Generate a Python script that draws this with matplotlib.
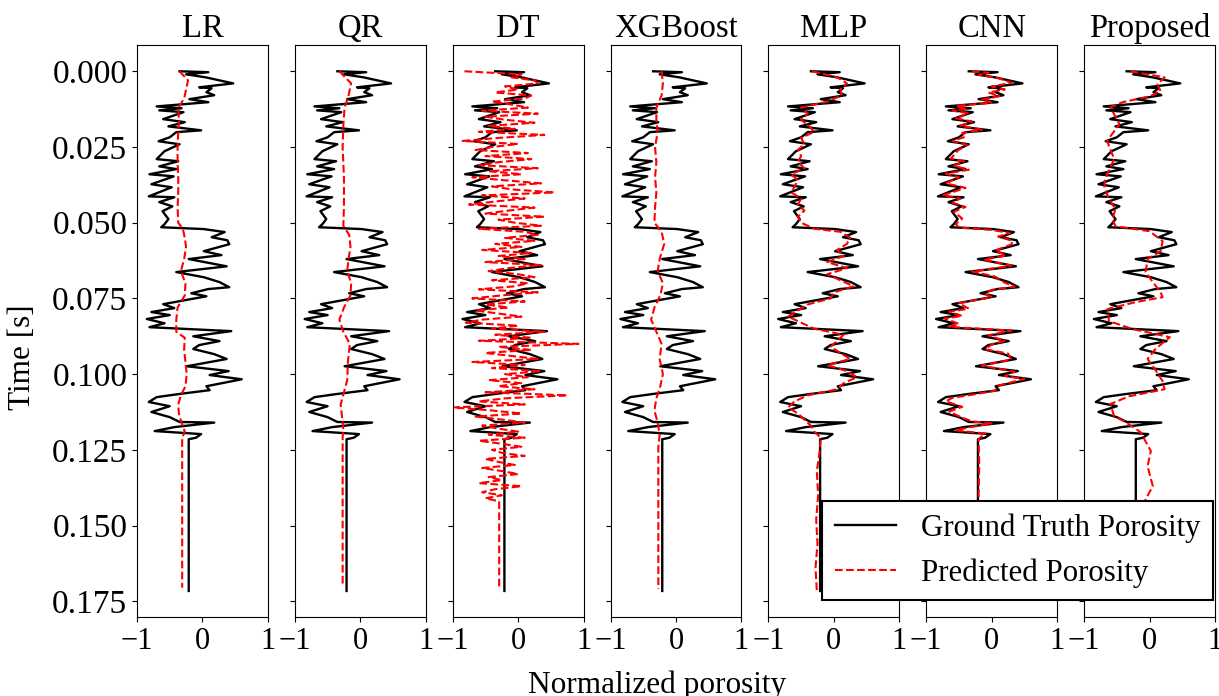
import matplotlib
matplotlib.use("Agg")
import matplotlib.pyplot as plt
import numpy as np

plt.rcParams["font.family"] = ["Liberation Serif", "DejaVu Serif"]
plt.rcParams["font.size"] = 21
plt.rcParams["axes.unicode_minus"] = True

# ground truth porosity log (time in ms, normalized porosity)
gt_time = [0, 0.3, 1.0, 2.0, 4.0, 5.3, 5.6, 6.9, 7.9, 9.2, 10.2, 11.6, 12.2, 12.9, 13.5,
           15.8, 16.8, 18.2, 19.5, 20.1, 21.8, 23.1, 24.1, 26.4, 29.0, 29.7, 31.4, 32.3,
           34.0, 34.7, 37.3, 38.3, 41.3, 41.6, 43.2, 44.6, 46.2, 48.8, 50.5, 51.5, 52.1,
           53.1, 54.8, 55.8, 57.1, 59.4, 60.7, 62.0, 64.4, 66.3, 68.0, 69.6, 71.3, 71.9,
           73.3, 74.3, 76.9, 78.2, 79.5, 80.5, 81.8, 83.2, 84.5, 85.8, 87.5, 89.1, 90.4,
           91.7, 93.4, 95.0, 97.4, 99.0, 100.3, 101.7, 104.0, 105.3, 106.6, 107.6, 109.2,
           110.6, 112.5, 114.2, 115.8, 116.0, 117.5, 118.8, 119.8, 121.0, 121.5, 171.6]
gt_value = [-0.35, 0.09, -0.25, 0.05, 0.47, -0.05, 0.14, 0.06, 0.18, -0.20, 0.09, -0.70,
            -0.32, -0.66, -0.29, -0.60, -0.27, -0.52, -0.02, -0.40, -0.50, -0.67, -0.35,
            -0.58, -0.70, -0.37, -0.66, -0.40, -0.81, -0.44, -0.78, -0.47, -0.82, -0.43,
            -0.66, -0.46, -0.61, -0.52, -0.58, -0.63, 0.02, 0.34, 0.14, 0.38, 0.41, 0.02,
            0.29, -0.21, 0.37, -0.40, 0.02, 0.26, 0.41, 0.09, -0.17, 0.06, -0.60, -0.43,
            -0.78, -0.50, -0.85, -0.58, -0.81, 0.44, -0.14, 0.26, -0.05, -0.14, 0.18, 0.37,
            -0.24, 0.40, 0.11, 0.60, 0.06, 0.11, -0.37, -0.70, -0.82, -0.50, -0.78, -0.50,
            -0.35, 0.18, -0.43, -0.73, -0.02, -0.10, -0.21, -0.21]

# model predictions
lr_time = [0, 3, 6, 9, 12, 16, 20, 25, 30, 35, 40, 45, 50, 52, 55, 58, 62, 66, 70, 74, 78,
           82, 86, 88, 92, 96, 100, 104, 107, 110, 113, 116, 119, 121, 170.5]
lr_value = [-0.35, -0.22, -0.25, -0.28, -0.37, -0.36, -0.37, -0.38, -0.38, -0.37, -0.37,
            -0.38, -0.37, -0.30, -0.27, -0.25, -0.28, -0.33, -0.26, -0.27, -0.38, -0.40,
            -0.40, -0.27, -0.28, -0.26, -0.24, -0.26, -0.33, -0.37, -0.36, -0.32, -0.27,
            -0.31, -0.31]

qr_time = [0, 4, 8, 12, 18, 25, 35, 45, 51, 54, 58, 62, 66, 70, 74, 78, 82, 86, 90, 96,
           102, 106, 110, 114, 118, 121, 169.5]
qr_value = [-0.32, -0.14, -0.18, -0.24, -0.26, -0.27, -0.25, -0.25, -0.26, -0.17, -0.15,
            -0.18, -0.20, -0.14, -0.15, -0.25, -0.32, -0.26, -0.16, -0.19, -0.20, -0.25,
            -0.30, -0.28, -0.26, -0.27, -0.27]

dt_value = [-0.82, 0.05, -0.1, 0.25, 0.3, -0.2, 0.0, -0.35, 0.2, 0.1,
            -0.4, -0.1, 0.15, -0.55, 0.3, -0.5, -0.2, 0.25, -0.45, -0.05,
            -0.6, 0.4, -0.3, -0.85, 0.0, -0.4, -0.65, 0.15, -0.5, 0.2,
            -0.3, -0.6, 0.3, -0.45, 0.05, -0.7, -0.2, 0.35, -0.4, -0.1,
            0.55, -0.55, 0.1, -0.35, -0.75, 0.25, -0.15, -0.5, 0.4, -0.3,
            -0.05, 0.35, -0.6, 0.1, 0.3, -0.2, 0.25, -0.35, 0.05, -0.55,
            0.2, -0.3, 0.1, -0.5, 0.35, -0.15, -0.45, 0.0, 0.25, -0.4,
            0.15, -0.05, -0.6, 0.3, -0.25, -0.7, 0.1, -0.5, -0.15, -0.65,
            -0.3, 0.05, -0.55, -0.8, 0.0, -0.4, 0.4, -0.35, 0.2, -0.6,
            0.92, -0.3, 0.2, -0.5, -0.1, 0.3, -0.7, 0.1, -0.4, 0.35,
            -0.2, 0.15, -0.45, 0.05, -0.3, 0.25, -0.5, 0.75, -0.2, -0.6,
            0.1, -1.0, -0.4, 0.05, -0.65, -0.25, 0.1, -0.55, -0.3, 0.0,
            -0.45, 0.1, -0.6, -0.25, 0.05, -0.4, -0.25, 0.1, -0.5, -0.3,
            -0.05, -0.55, -0.25, 0.0, -0.45, -0.25, -0.6, 0.05, -0.35, -0.55,
            -0.25, -0.5, -0.29, -0.29]
dt_time = list(range(142)) + [142, 171]

xgb_time = [0, 4, 8, 12, 16, 20, 25, 30, 35, 40, 45, 50, 53, 57, 62, 66, 70, 74, 78, 82,
            86, 90, 95, 100, 104, 108, 112, 116, 120, 124, 171]
xgb_value = [-0.22, -0.20, -0.22, -0.30, -0.30, -0.28, -0.32, -0.30, -0.32, -0.30, -0.32,
             -0.33, -0.22, -0.18, -0.25, -0.28, -0.20, -0.24, -0.33, -0.38, -0.30, -0.22,
             -0.25, -0.20, -0.24, -0.30, -0.33, -0.28, -0.25, -0.27, -0.27]

mlp_time = [0, 2, 4, 6, 8, 10, 12, 14, 16, 18, 20, 22, 24, 26, 28, 30, 32, 34, 36, 38, 40,
            42, 44, 46, 48, 50, 52, 53, 55, 57, 59, 61, 63, 65, 67, 69, 71, 73, 75, 77, 79,
            81, 83, 85, 87, 89, 91, 93, 95, 97, 99, 101, 103, 105, 107, 109, 111, 113, 115,
            117, 119, 121, 126, 132, 140, 148, 156, 164, 171.6]
mlp_value = [-0.33, 0.05, 0.20, 0.10, 0.12, -0.10, -0.50, -0.40, -0.50, -0.38, -0.30, -0.50,
             -0.45, -0.55, -0.50, -0.55, -0.45, -0.65, -0.55, -0.60, -0.65, -0.50, -0.55,
             -0.45, -0.55, -0.50, -0.30, 0.10, 0.25, 0.20, 0.05, 0.15, -0.10, 0.20, -0.10,
             0.10, 0.30, 0.00, -0.05, -0.40, -0.55, -0.70, -0.50, -0.30, 0.15, 0.05, -0.05,
             0.10, 0.25, -0.10, 0.20, 0.35, 0.15, 0.05, -0.40, -0.60, -0.70, -0.55, -0.45,
             -0.35, -0.30, -0.20, -0.22, -0.26, -0.24, -0.27, -0.25, -0.28, -0.26]

cnn_time = [0, 0.5, 1.2, 2.2, 3.8, 5.0, 6.0, 7.0, 8.2, 9.4, 10.4, 11.4, 12.4, 13.0, 13.8,
            15.5, 16.6, 18.0, 19.3, 20.3, 21.6, 23.0, 24.3, 26.2, 28.8, 29.8, 31.2, 32.5,
            33.8, 35.0, 37.0, 38.5, 41.0, 42.0, 43.4, 44.8, 46.4, 48.6, 50.4, 51.6, 52.4,
            53.4, 54.6, 56.0, 57.2, 59.2, 60.8, 62.2, 64.2, 66.1, 67.8, 69.8, 71.1, 72.2,
            73.4, 74.6, 76.6, 78.4, 79.4, 80.8, 81.6, 83.4, 84.4, 85.6, 87.2, 89.0, 90.2,
            91.8, 93.2, 95.2, 97.2, 99.2, 100.6, 101.6, 103.8, 105.5, 106.8, 107.8, 109.0,
            110.8, 112.4, 114.4, 115.6, 116.3, 117.6, 118.6, 119.6, 121.4, 130, 140, 150,
            160, 171.6]
cnn_value = [-0.30, -0.05, -0.20, 0.10, 0.30, 0.00, 0.20, -0.05, 0.12, -0.15, 0.00, -0.55,
             -0.38, -0.60, -0.35, -0.55, -0.30, -0.48, -0.15, -0.45, -0.40, -0.60, -0.38,
             -0.52, -0.62, -0.42, -0.58, -0.35, -0.70, -0.50, -0.70, -0.40, -0.75, -0.48,
             -0.60, -0.40, -0.58, -0.45, -0.55, -0.50, 0.00, 0.28, 0.10, 0.32, 0.30, 0.05,
             0.22, -0.12, 0.30, -0.30, 0.05, 0.20, 0.35, 0.00, -0.10, 0.00, -0.50, -0.35,
             -0.65, -0.45, -0.72, -0.50, -0.65, 0.30, -0.05, 0.20, 0.00, -0.10, 0.25, 0.30,
             -0.15, 0.35, 0.20, 0.50, 0.10, 0.05, -0.30, -0.60, -0.70, -0.45, -0.65, -0.45,
             -0.30, 0.00, -0.35, -0.55, -0.10, -0.20, -0.19, -0.20, -0.19, -0.20, -0.20]

prop_time = [0, 2, 4.3, 6.6, 8.3, 10.2, 11.9, 14.2, 17.5, 19.8, 23, 25.7, 29, 31.7, 35.6,
             38.3, 42.2, 45.5, 48.8, 51.2, 52.8, 56.1, 59.4, 62, 66.3, 69.6, 73, 74.6, 76.2,
             78.5, 82.5, 85.1, 87.8, 91.7, 95, 98.3, 102.3, 105, 107.3, 109.9, 113.9, 115.8,
             119.1, 125.4, 130.4, 137, 141.3, 150, 160, 171.6]
prop_value = [-0.29, 0.23, 0.12, 0.17, 0.00, -0.41, -0.60, -0.54, -0.46, -0.54, -0.65, -0.60,
              -0.54, -0.60, -0.68, -0.69, -0.62, -0.52, -0.57, -0.52, 0.00, 0.20, 0.17,
              -0.03, -0.06, 0.05, 0.17, 0.20, -0.21, -0.64, -0.62, -0.26, 0.31, 0.09, -0.03,
              0.08, 0.20, 0.23, -0.31, -0.60, -0.54, -0.37, -0.14, 0.02, -0.03, 0.05, -0.06,
              -0.02, 0.02, -0.01]

titles = ["LR", "QR", "DT", "XGBoost", "MLP", "CNN", "Proposed"]
predictions = [(lr_time, lr_value), (qr_time, qr_value), (dt_time, dt_value),
               (xgb_time, xgb_value), (mlp_time, mlp_value), (cnn_time, cnn_value),
               (prop_time, prop_value)]

fig, axes = plt.subplots(1, 7, sharey=True, figsize=(12.19, 6.96), dpi=100)
fig.subplots_adjust(left=0.1124, right=0.9967, bottom=0.1135, top=0.935, wspace=0.206)

gt_t = np.array(gt_time) / 1000.0
for ax, title, (pt, pv) in zip(axes, titles, predictions):
    ax.plot(gt_value, gt_t, color="black", lw=1.7, label="Ground Truth Porosity")
    ax.plot(pv, np.array(pt) / 1000.0, color="red", ls="--", lw=1.5,
            label="Predicted Porosity")
    ax.set_title(title, fontsize=23.5)
    ax.set_xlim(-1, 1)
    ax.set_xticks([-1, 0, 1])
    ax.tick_params(axis="x", labelsize=22)
    ax.tick_params(axis="y", labelsize=24)

axes[0].set_ylim(0.1802, -0.0086)
axes[0].set_yticks([0, 0.025, 0.05, 0.075, 0.1, 0.125, 0.15, 0.175])
axes[0].set_yticklabels(["0.000", "0.025", "0.050", "0.075", "0.100", "0.125",
                         "0.150", "0.175"])

fig.text(22 / 1219, 1 - 357 / 696, "Time [s]", rotation=90, ha="center", va="center",
         fontsize=22.5)
fig.text(657 / 1219, 0.016, "Normalized porosity", ha="center", va="center", fontsize=22.5)

handles, labels = axes[-1].get_legend_handles_labels()
leg = fig.legend(handles, labels, loc="lower right", bbox_to_anchor=(1213 / 1219, 1 - 600 / 696),
                 borderaxespad=0, fancybox=False, framealpha=1, edgecolor="black",
                 fontsize=22.2)
leg.get_frame().set_linewidth(1.5)

fig.savefig("out.png", dpi=100)
